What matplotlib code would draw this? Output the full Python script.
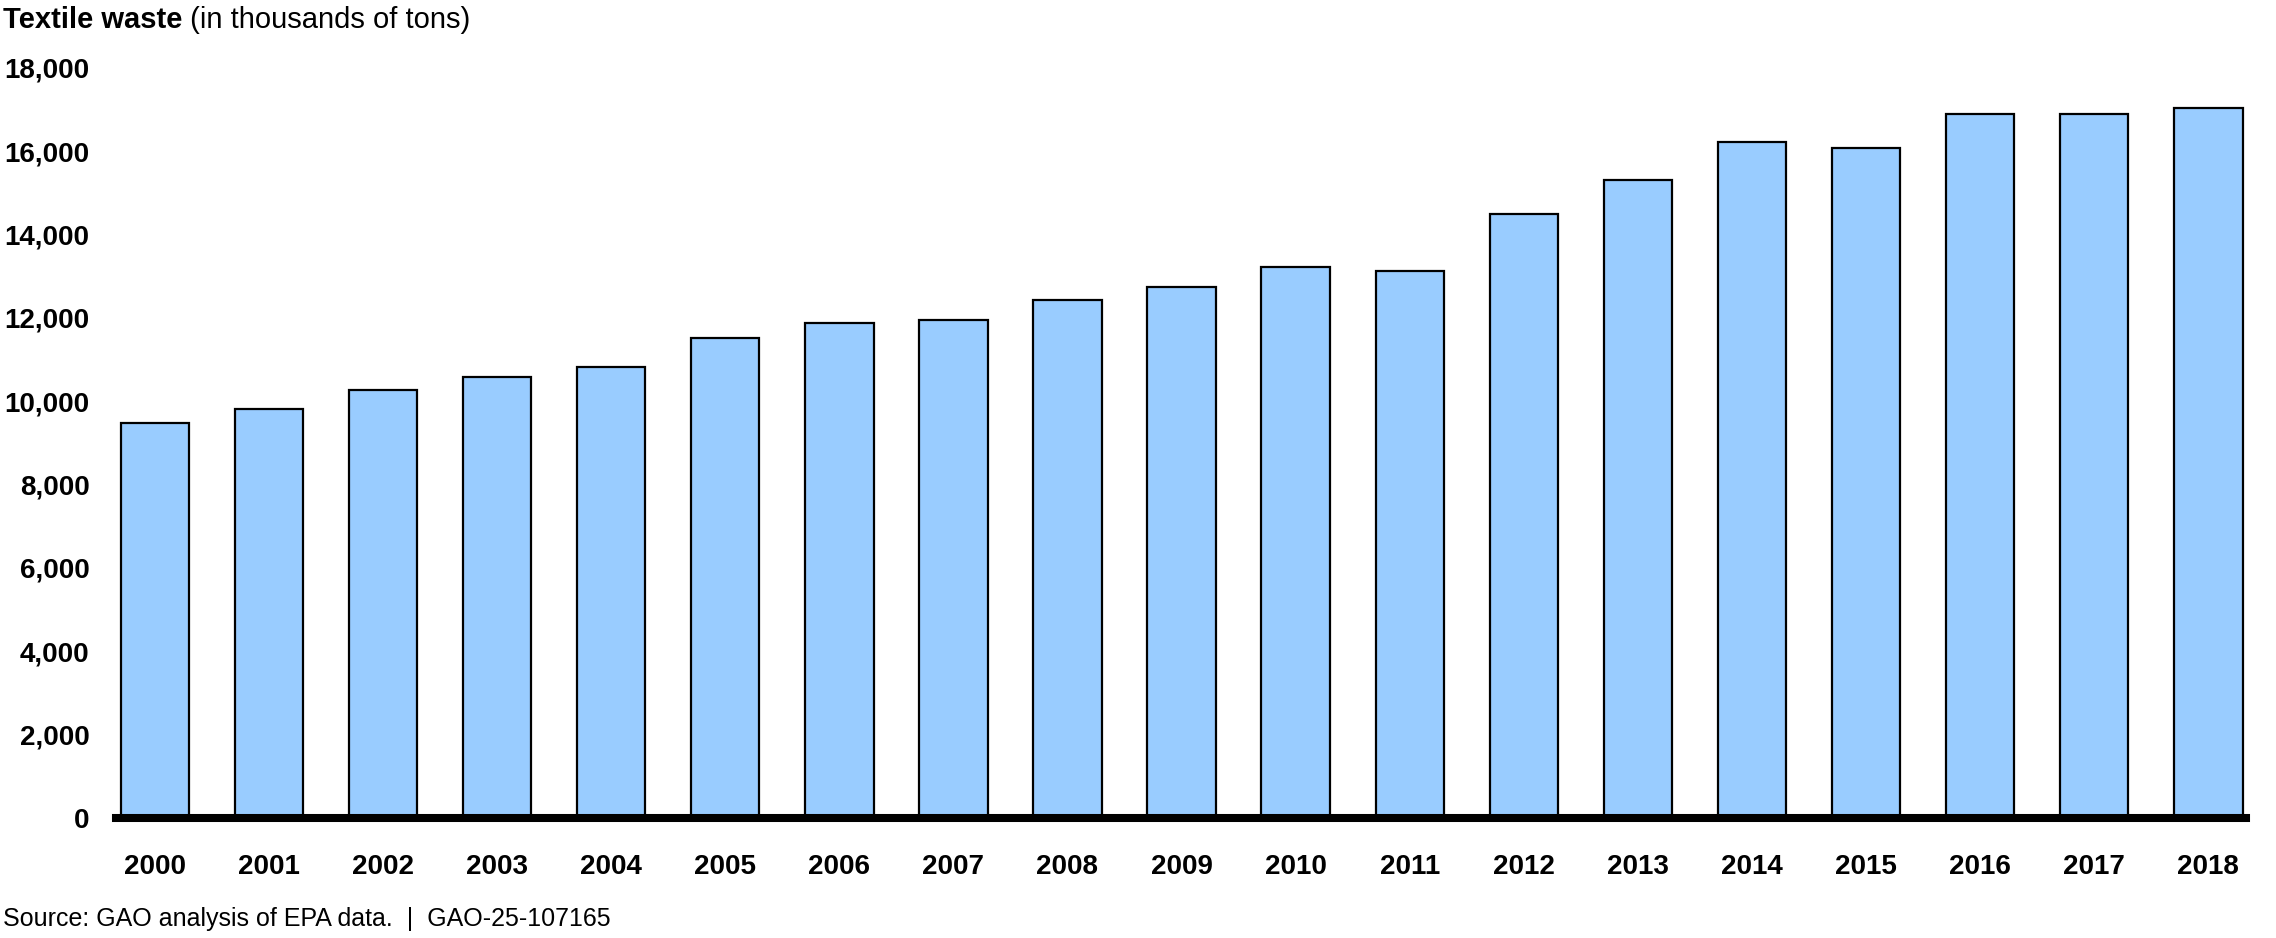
import matplotlib.pyplot as plt
from matplotlib.ticker import FuncFormatter

plt.rcParams["font.family"] = ["Liberation Sans", "DejaVu Sans"]

# Data (thousands of tons)
years = [str(y) for y in range(2000, 2019)]
waste = [9480, 9810, 10260, 10580, 10820, 11510, 11870, 11940, 12420, 12740,
         13220, 13130, 14500, 15320, 16220, 16070, 16890, 16890, 17030]
yticks = list(range(0, 18001, 2000))

BAR_COLOR = "#99ccff"

fig = plt.figure(figsize=(22.76, 9.38), dpi=100)
ax = fig.add_axes([116 / 2276, 120 / 938, (2246 - 116) / 2276, 750 / 938])

x = range(len(years))
ax.bar(x, waste, width=0.6, color=BAR_COLOR, edgecolor="black",
       linewidth=1.6, zorder=2)

ax.set_xlim(-0.34, len(years) - 1 + 0.33)
ax.set_ylim(0, 18000)
ax.set_yticks(yticks)
ax.yaxis.set_major_formatter(FuncFormatter(lambda v, _: f"{int(v):,}"))
ax.set_xticks(list(x))
ax.set_xticklabels(years)

for s in ("top", "right", "left"):
    ax.spines[s].set_visible(False)
ax.spines["bottom"].set_linewidth(5.8)
ax.spines["bottom"].set_color("black")
ax.spines["bottom"].set_zorder(3)

ax.tick_params(axis="y", length=0, pad=19, labelsize=20)
ax.tick_params(axis="x", length=0, pad=26, labelsize=20)
for lab in ax.get_xticklabels() + ax.get_yticklabels():
    lab.set_fontweight("bold")

# Title: bold part + regular part
t1 = fig.text(3 / 2276, 1 - 20 / 938, "Textile waste", fontsize=21,
              fontweight="bold", ha="left", va="center")
fig.canvas.draw()
bb = t1.get_window_extent()
fig.text(bb.x1 / fig.bbox.width, 1 - 20 / 938, " (in thousands of tons)",
         fontsize=21, ha="left", va="center")

fig.text(3 / 2276, 19 / 938, "Source: GAO analysis of EPA data.  |  GAO-25-107165",
         fontsize=18, ha="left", va="center")

fig.savefig("out.png", dpi=100)
